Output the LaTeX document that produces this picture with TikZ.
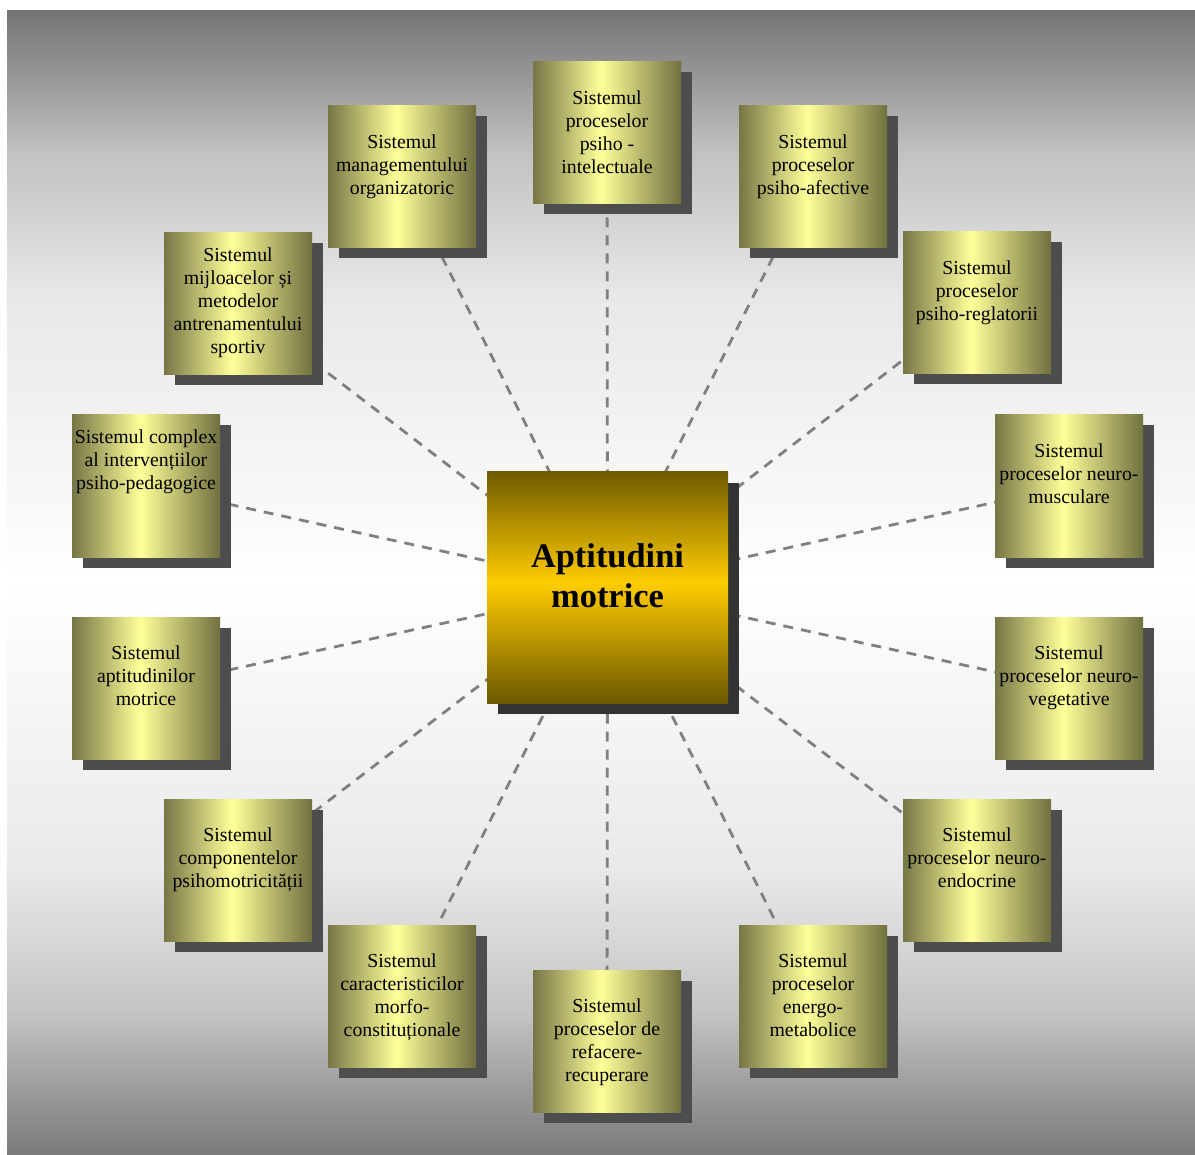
\documentclass[tikz,border=0pt]{standalone}
\usepackage{fontspec}
\setmainfont{Liberation Serif}
\usetikzlibrary{shadows}
\definecolor{oliveL}{RGB}{118,118,70}
\definecolor{oliveR}{RGB}{112,112,64}
\definecolor{paleY}{RGB}{255,255,153}
\definecolor{goldT}{RGB}{112,92,0}
\definecolor{goldM}{RGB}{255,204,0}
\definecolor{goldB}{RGB}{108,88,0}
\definecolor{bgTop}{RGB}{116,116,116}
\definecolor{bgBot}{RGB}{122,122,122}
\definecolor{bgA}{RGB}{194,194,194}
\definecolor{bgB}{RGB}{232,232,232}
\definecolor{bgC}{RGB}{196,196,196}
\definecolor{bgD}{RGB}{233,233,233}
\definecolor{shadowA}{RGB}{77,77,77}
\definecolor{shadowB}{RGB}{51,51,51}
\definecolor{dashgray}{RGB}{128,128,128}
\pgfdeclarehorizontalshading{oliveshade}{100bp}{color(0bp)=(oliveL); color(25bp)=(oliveL); color(48bp)=(paleY); color(75bp)=(oliveR); color(100bp)=(oliveR)}
\pgfdeclareverticalshading{goldshade}{100bp}{color(0bp)=(goldB); color(25bp)=(goldB); color(51bp)=(goldM); color(75bp)=(goldT); color(100bp)=(goldT)}
\pgfdeclareverticalshading{bgshade}{100bp}{color(0bp)=(bgBot); color(25bp)=(bgBot); color(31.25bp)=(bgC); color(37.5bp)=(bgD); color(50bp)=(white); color(62.5bp)=(bgB); color(68.75bp)=(bgA); color(75bp)=(bgTop); color(100bp)=(bgTop)}
\pgfdeclarelayer{bg}
\pgfdeclarelayer{links}
\pgfsetlayers{bg,links,main}
\tikzset{
  sysbox/.style={shade, shading=oliveshade, inner sep=0pt, outer sep=0pt, anchor=north west,
    drop shadow={shadow xshift=10.5pt, shadow yshift=-10.5pt, fill=shadowA, opacity=1}},
  corebox/.style={shade, shading=goldshade, inner sep=0pt, outer sep=0pt, anchor=north west,
    drop shadow={shadow xshift=11pt, shadow yshift=-11pt, fill=shadowB, opacity=1}},
  link/.style={draw=dashgray, line width=2.8pt, dash pattern=on 10pt off 8pt}
}
\newcommand\boxtext[2]{\parbox[c][142pt][t]{148pt}{\centering\fontsize{19.8pt}{23pt}\selectfont\vspace*{#1}\strut #2}}
\begin{document}
\begin{tikzpicture}[x=1pt,y=-1pt]
\useasboundingbox (0,0) rectangle (1195,1155);
\begin{pgfonlayer}{bg}
\shade[shading=bgshade] (7,11) rectangle (1195,1155);
\end{pgfonlayer}

\node[corebox] (core) at (487,472) {\parbox[c][231pt][t]{241pt}{\centering\fontsize{34.4pt}{40pt}\selectfont\bfseries\vspace*{67.5pt}\strut Aptitudini\\motrice}};

\node[sysbox] (b1) at (533,62) {\boxtext{26.4pt}{Sistemul\\proceselor\\psiho -\\intelectuale}};
\node[sysbox] (b2) at (739,106) {\boxtext{26.4pt}{Sistemul\\proceselor\\psiho-afective}};
\node[sysbox] (b3) at (903,232) {\boxtext{26.4pt}{Sistemul\\proceselor\\psiho-reglatorii}};
\node[sysbox] (b4) at (995,415) {\boxtext{26.4pt}{Sistemul\\proceselor neuro-\\musculare}};
\node[sysbox] (b5) at (995,617) {\boxtext{26.4pt}{Sistemul\\proceselor neuro-\\vegetative}};
\node[sysbox] (b6) at (903,799) {\boxtext{26.4pt}{Sistemul\\proceselor neuro-\\endocrine}};
\node[sysbox] (b7) at (739,925) {\boxtext{26.4pt}{Sistemul\\proceselor\\energo-\\metabolice}};
\node[sysbox] (b8) at (533,970) {\boxtext{26.4pt}{Sistemul\\proceselor de\\refacere-\\recuperare}};
\node[sysbox] (b9) at (328,925) {\boxtext{26.4pt}{Sistemul\\caracteristicilor\\morfo-\\constituționale}};
\node[sysbox] (b10) at (164,799) {\boxtext{26.4pt}{Sistemul\\componentelor\\psihomotricității}};
\node[sysbox] (b11) at (72,617) {\boxtext{26.4pt}{Sistemul\\aptitudinilor\\motrice}};
\node[sysbox] (b12) at (72,415) {\boxtext{12.6pt}{Sistemul complex\\al intervențiilor\\psiho-pedagogice}};
\node[sysbox] (b13) at (164,233) {\boxtext{12.6pt}{Sistemul\\mijloacelor și\\metodelor\\antrenamentului\\sportiv}};
\node[sysbox] (b14) at (328,106) {\boxtext{26.4pt}{Sistemul\\managementului\\organizatoric}};

\begin{pgfonlayer}{links}
\foreach \b in {b1,b2,b3,b4,b5,b6,b7,b8,b9,b10,b11,b12,b13,b14}
  \draw[link] (core.center) -- (\b.center);
\end{pgfonlayer}
\end{tikzpicture}
\end{document}
